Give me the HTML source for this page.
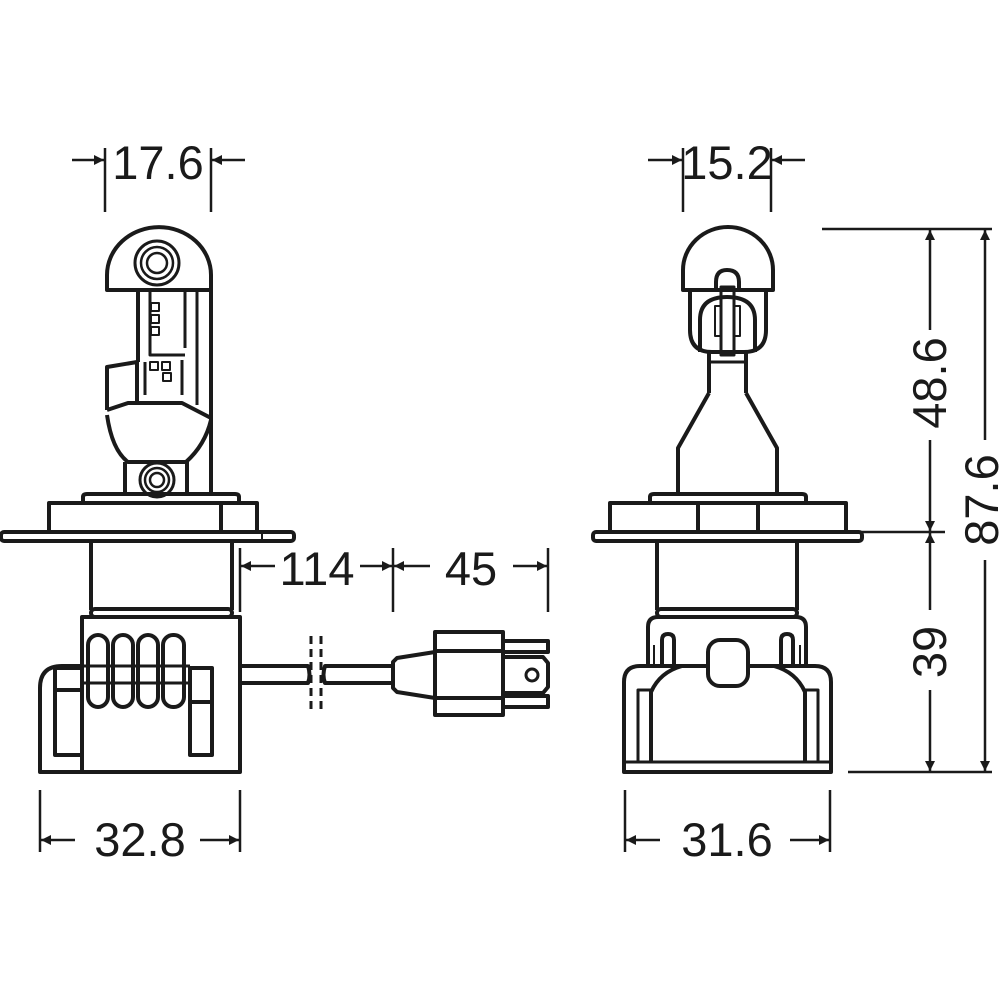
<!DOCTYPE html>
<html><head><meta charset="utf-8"><style>
html,body{margin:0;padding:0;background:#fff}
svg{display:block}
text{font-family:"Liberation Sans",sans-serif;font-size:47px;fill:#1a1a1a}
</style></head><body>
<svg width="1000" height="1000" viewBox="0 0 1000 1000" xmlns="http://www.w3.org/2000/svg">
<defs>
<marker id="a" viewBox="0 0 10 10" refX="10" refY="5" markerWidth="13" markerHeight="10" markerUnits="userSpaceOnUse" orient="auto"><path d="M0,0 L10,5 L0,10 Z" fill="#1a1a1a"/></marker>
</defs>
<g fill="none" stroke="#1a1a1a" stroke-width="4" stroke-linejoin="round">
<!-- LEFT BULB -->
<path d="M107,290 L107,275 A51,47 0 0 1 211,275 L211,290 Z"/>
<circle cx="157" cy="263" r="22" stroke-width="3"/>
<circle cx="157" cy="263" r="16" stroke-width="2.5"/>
<circle cx="157" cy="263" r="10" stroke-width="2.5"/>
<line x1="138" y1="290" x2="138" y2="362"/>
<line x1="211" y1="290" x2="211" y2="494"/>
<line x1="185" y1="290" x2="185" y2="348" stroke-width="3"/>
<line x1="197" y1="290" x2="197" y2="405" stroke-width="3"/>
<path d="M150,290 L150,355 L185,355" stroke-width="3"/>
<rect x="151" y="303" width="8" height="8" stroke-width="2"/>
<rect x="151" y="315" width="8" height="8" stroke-width="2"/>
<rect x="151" y="327" width="8" height="8" stroke-width="2"/>
<rect x="150" y="362" width="8" height="8" stroke-width="2"/>
<rect x="162" y="362" width="8" height="8" stroke-width="2"/>
<rect x="163" y="373" width="8" height="8" stroke-width="2"/>
<line x1="145" y1="362" x2="145" y2="395" stroke-width="3"/>
<line x1="182" y1="360" x2="182" y2="395" stroke-width="3"/>
<path d="M107,410 L107,367 L137,362 L137,405"/>
<path d="M107,410 L128,403 L182,403 L211,418"/>
<path d="M107,415 Q112,450 128,462 L186,462 Q205,445 211,420"/>
<line x1="125" y1="462" x2="125" y2="494"/>
<line x1="187" y1="462" x2="187" y2="494"/>
<circle cx="157" cy="480" r="17" stroke-width="3"/>
<circle cx="157" cy="480" r="12" stroke-width="2.5"/>
<circle cx="157" cy="480" r="7" stroke-width="2.5"/>
<path d="M83,503 L83,497 Q83,494 87,494 L235,494 Q239,494 239,497 L239,503"/>
<rect x="49" y="503" width="208" height="29"/>
<line x1="221" y1="503" x2="221" y2="532"/>
<rect x="1" y="532" width="293" height="9" rx="3"/>
<line x1="262" y1="533" x2="262" y2="540" stroke-width="2"/>
<path d="M91,541 L91,610 M232,541 L232,610"/>
<rect x="91" y="609" width="141" height="8" rx="4"/>
<path d="M82,617 L240,617 L240,772 L40,772 L40,688 Q40,666 62,666 L82,666 Z"/>
<line x1="82" y1="617" x2="82" y2="772"/>
<rect x="55" y="668" width="27" height="87"/>
<line x1="55" y1="690" x2="82" y2="690"/>
<rect x="190" y="668" width="22" height="87"/>
<line x1="190" y1="702" x2="212" y2="702"/>
<rect x="88" y="635" width="20" height="72" rx="10"/>
<rect x="113" y="635" width="20" height="72" rx="10"/>
<rect x="138" y="635" width="20" height="72" rx="10"/>
<rect x="163" y="635" width="21" height="72" rx="10"/>
<line x1="82" y1="666" x2="190" y2="666" stroke-width="3"/>
<line x1="82" y1="683" x2="190" y2="683" stroke-width="3"/>
<!-- cable -->
<path d="M240,666 L308,666 Q311,675 308,683 L240,683"/>
<path d="M393,666 L325,666 Q322,675 325,683 L393,683"/>
<line x1="311" y1="636" x2="311" y2="712" stroke-width="3" stroke-dasharray="8,5"/>
<line x1="321" y1="636" x2="321" y2="712" stroke-width="3" stroke-dasharray="8,5"/>
<path d="M435,652 L397,658 L393,662 L393,688 L397,692 L435,698"/>
<rect x="435" y="632" width="68" height="83"/>
<line x1="435" y1="651" x2="503" y2="651"/>
<line x1="435" y1="698" x2="503" y2="698"/>
<rect x="503" y="641" width="45" height="11"/>
<rect x="503" y="696" width="45" height="11"/>
<path d="M503,657 L543,657 L548,663 L548,687 L543,693 L503,693"/>
<circle cx="532" cy="675" r="6" stroke-width="3"/>
<!-- RIGHT BULB -->
<path d="M683,290 L683,270 A44,42 0 0 1 773,270 L773,290 Z"/>
<path d="M690,290 L690,330 Q690,352 712,352 L744,352 Q766,352 766,330 L766,290"/>
<path d="M700,352 L700,320 Q700,297 727,297 Q755,297 755,320 L755,352"/>
<path d="M716,290 L716,282 Q716,270 727,270 Q739,270 739,282 L739,290"/>
<rect x="721" y="287" width="13" height="68" stroke-width="3"/>
<rect x="715" y="306" width="6" height="30" stroke-width="2"/>
<rect x="734" y="306" width="6" height="30" stroke-width="2"/>
<line x1="709" y1="352" x2="709" y2="393"/>
<line x1="746" y1="352" x2="746" y2="393"/>
<line x1="709" y1="362" x2="746" y2="362" stroke-width="3"/>
<path d="M709,393 L678,448 L678,494 M746,393 L777,448 L777,494"/>
<path d="M650,503 L650,497 Q650,494 654,494 L802,494 Q806,494 806,497 L806,503"/>
<rect x="610" y="503" width="236" height="29"/>
<line x1="698" y1="503" x2="698" y2="532"/>
<line x1="758" y1="503" x2="758" y2="532"/>
<rect x="593" y="532" width="269" height="9" rx="3"/>
<path d="M657,541 L657,610 M797,541 L797,610"/>
<rect x="657" y="609" width="140" height="8" rx="4"/>
<path d="M648,666 L648,627 Q648,617 658,617 L796,617 Q806,617 806,627 L806,666"/>
<path d="M662,666 L662,640 Q662,634 668,634 Q674,634 674,640 L674,666 M781,666 L781,640 Q781,634 787,634 Q793,634 793,640 L793,666"/>
<line x1="654" y1="645" x2="654" y2="666" stroke-width="2"/>
<line x1="800" y1="645" x2="800" y2="666" stroke-width="2"/>
<path d="M624,772 L624,682 Q624,666 640,666 L815,666 Q831,666 831,682 L831,772 Z"/>
<line x1="624" y1="762" x2="831" y2="762" stroke-width="3"/>
<path d="M651,762 L651,692 Q660,672 682,666 M805,762 L805,692 Q796,672 774,666"/>
<rect x="638" y="690" width="13" height="72" stroke-width="3"/>
<rect x="805" y="690" width="13" height="72" stroke-width="3"/>
<rect x="708" y="640" width="40" height="46" rx="12" fill="#fff"/>
</g>
<!-- DIMENSIONS -->
<g stroke="#1a1a1a" stroke-width="2.5" fill="none">
<line x1="105" y1="148" x2="105" y2="212"/>
<line x1="211" y1="148" x2="211" y2="212"/>
<line x1="72" y1="160" x2="104" y2="160" marker-end="url(#a)"/>
<line x1="245" y1="160" x2="212" y2="160" marker-end="url(#a)"/>
<line x1="683" y1="148" x2="683" y2="212"/>
<line x1="771" y1="148" x2="771" y2="212"/>
<line x1="648" y1="160" x2="682" y2="160" marker-end="url(#a)"/>
<line x1="805" y1="160" x2="772" y2="160" marker-end="url(#a)"/>
<line x1="240" y1="548" x2="240" y2="612"/>
<line x1="393" y1="548" x2="393" y2="612"/>
<line x1="548" y1="548" x2="548" y2="612"/>
<line x1="275" y1="566" x2="241" y2="566" marker-end="url(#a)"/>
<line x1="360" y1="566" x2="392" y2="566" marker-end="url(#a)"/>
<line x1="430" y1="566" x2="394" y2="566" marker-end="url(#a)"/>
<line x1="513" y1="566" x2="547" y2="566" marker-end="url(#a)"/>
<line x1="40" y1="790" x2="40" y2="852"/>
<line x1="240" y1="790" x2="240" y2="852"/>
<line x1="75" y1="840" x2="41" y2="840" marker-end="url(#a)"/>
<line x1="200" y1="840" x2="239" y2="840" marker-end="url(#a)"/>
<line x1="625" y1="790" x2="625" y2="852"/>
<line x1="830" y1="790" x2="830" y2="852"/>
<line x1="660" y1="840" x2="626" y2="840" marker-end="url(#a)"/>
<line x1="790" y1="840" x2="829" y2="840" marker-end="url(#a)"/>
<line x1="822" y1="229" x2="992" y2="229"/>
<line x1="848" y1="532" x2="945" y2="532"/>
<line x1="848" y1="772" x2="992" y2="772"/>
<line x1="930" y1="330" x2="930" y2="230" marker-end="url(#a)"/>
<line x1="930" y1="440" x2="930" y2="531" marker-end="url(#a)"/>
<line x1="930" y1="610" x2="930" y2="533" marker-end="url(#a)"/>
<line x1="930" y1="690" x2="930" y2="771" marker-end="url(#a)"/>
<line x1="985" y1="440" x2="985" y2="230" marker-end="url(#a)"/>
<line x1="985" y1="560" x2="985" y2="771" marker-end="url(#a)"/>
</g>
<text x="158" y="179" text-anchor="middle">17.6</text>
<text x="727" y="179" text-anchor="middle">15.2</text>
<text x="317" y="585" text-anchor="middle">114</text>
<text x="471" y="585" text-anchor="middle">45</text>
<text x="140" y="856" text-anchor="middle">32.8</text>
<text x="727" y="856" text-anchor="middle">31.6</text>
<text transform="translate(946,383) rotate(-90)" text-anchor="middle">48.6</text>
<text transform="translate(946,652) rotate(-90)" text-anchor="middle">39</text>
<text transform="translate(998,500) rotate(-90)" text-anchor="middle">87.6</text>
</svg>
</body></html>
